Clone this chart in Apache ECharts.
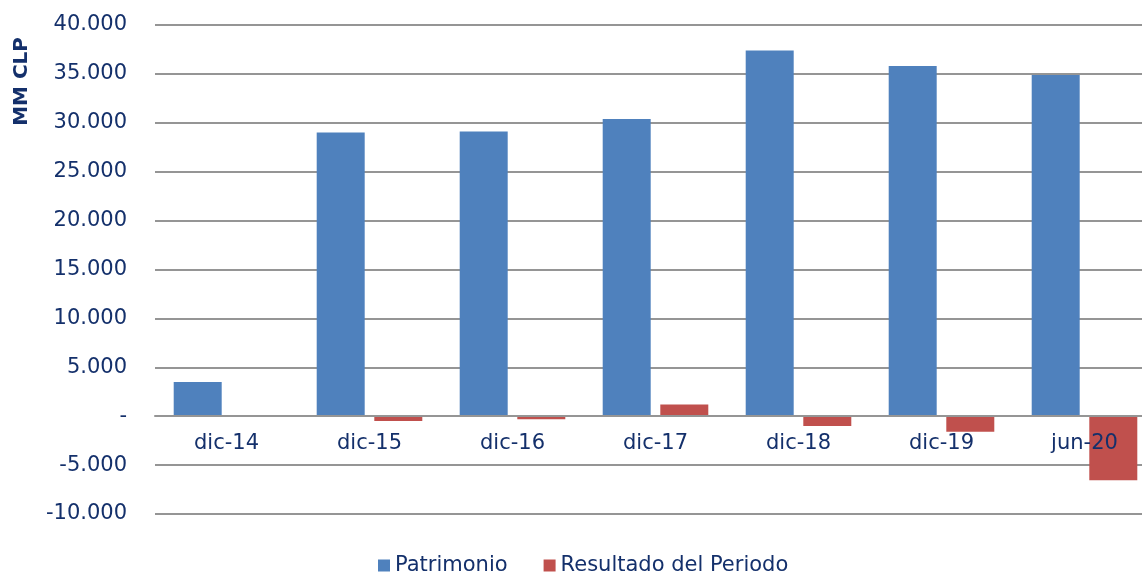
<!DOCTYPE html>
<html>
<head>
    <meta charset="utf-8">
    <title>Patrimonio</title>
    <script src="https://cdn.jsdelivr.net/npm/echarts@6/dist/echarts.min.js"></script>
    <style>
        html, body { margin: 0; padding: 0; background: #fff; }
    </style>
</head>
<body>
  <div id="main" style="width: 1142px;height:574px;"></div>

  <script>
      // datos
      var periodos = ['dic-14', 'dic-15', 'dic-16', 'dic-17', 'dic-18', 'dic-19', 'jun-20'];
      var patrimonio = [3500, 29000, 29100, 30400, 37400, 35800, 34900];
      var resultado = [0, -500, -300, 1200, -1000, -1600, -6550];

      var textColor = '#14306B';
      var gridColor = '#959595';

      function fmt(v) {
          if (v === 0) return '-';
          var s = Math.abs(v).toString().replace(/\B(?=(\d{3})+(?!\d))/g, '.');
          return (v < 0 ? '-' : '') + s;
      }

      var myChart = echarts.init(document.getElementById('main'));

      var option = {
          animation: false,
          textStyle: { fontFamily: 'DejaVu Sans' },
          grid: { left: 155, top: 25, right: -14, bottom: 60, outerBoundsMode: 'none', containLabel: false },
          graphic: [{
              type: 'text',
              left: 12,
              top: 37,
              rotation: Math.PI / 2,
              style: {
                  text: 'MM CLP',
                  font: 'bold 20px "DejaVu Sans"',
                  fill: textColor
              }
          }],
          legend: {
              top: 550,
              left: 373,
              itemWidth: 12,
              itemHeight: 12,
              itemGap: 36,
              icon: 'rect',
              textStyle: { color: textColor, fontSize: 21, fontFamily: 'DejaVu Sans' },
              data: ['Patrimonio', 'Resultado del Periodo']
          },
          xAxis: {
              type: 'category',
              data: periodos,
              offset: -98,
              axisTick: { show: false },
              axisLine: { onZero: false, lineStyle: { color: gridColor, width: 2 } },
              axisLabel: { color: textColor, fontSize: 21, margin: 17 },
              z: 10
          },
          yAxis: {
              type: 'value',
              min: -10000,
              max: 40000,
              interval: 5000,
              axisLine: { show: false },
              axisTick: { show: false },
              axisLabel: { color: textColor, fontSize: 21, margin: 28, formatter: fmt },
              splitLine: { lineStyle: { color: gridColor, width: 2 } }
          },
          series: [{
              name: 'Patrimonio',
              type: 'bar',
              barWidth: 48,
              barGap: '20%',
              itemStyle: { color: '#4F81BD' },
              data: patrimonio
          }, {
              name: 'Resultado del Periodo',
              type: 'bar',
              barWidth: 48,
              itemStyle: { color: '#C0504D' },
              data: resultado
          }]
      };

      myChart.setOption(option);
  </script>
</body>
</html>
